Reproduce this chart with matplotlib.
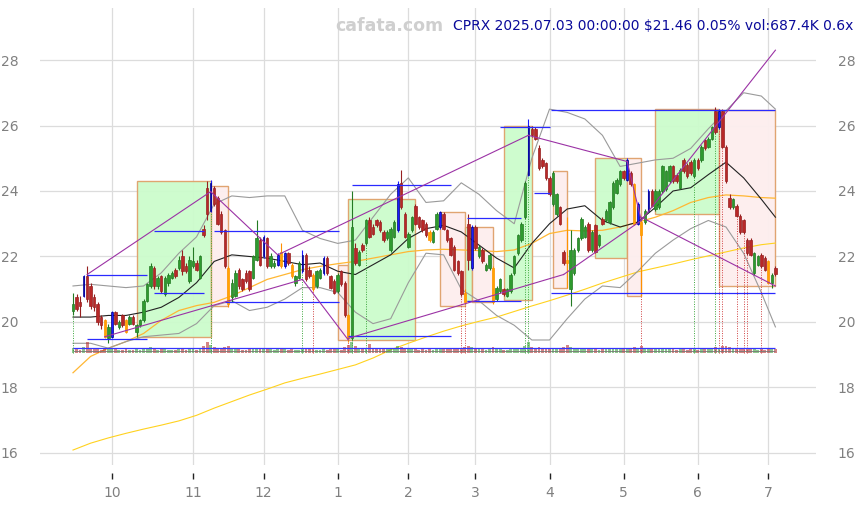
import numpy as np
import pandas as pd
import matplotlib
matplotlib.use("Agg")
import matplotlib.pyplot as plt
from matplotlib.patches import Rectangle

# ---------------- data ----------------
start_date, end_date = "2024-09-16", "2025-07-03"
holidays = ["2024-11-28", "2024-12-25", "2025-01-01", "2025-01-09", "2025-01-20",
            "2025-02-17", "2025-04-18", "2025-05-26", "2025-06-19"]

opens = [20.35, 20.75, 20.6, 20.8, 21.4, 21.1, 20.75, 20.55, 20.15, 20.05,
         19.5, 19.55, 20.3, 19.85, 20.2, 20.05, 19.95, 20.15, 19.7, 19.9,
         20.05, 20.65, 21.1, 21.65, 21.1, 21.4, 20.85, 21.2, 21.35, 21.6,
         21.65, 22.0, 21.7, 21.25, 21.7, 21.8, 21.35, 22.85, 24.1, 23.4,
         24.1, 23.8, 23.3, 22.8, 21.65, 20.75, 20.8, 21.6, 21.3, 21.5,
         21.55, 21.35, 21.9, 22.5, 22.0, 22.55, 21.7, 21.7, 21.75, 22.15,
         21.7, 22.1, 21.75, 21.2, 21.35, 21.55, 22.05, 21.6, 21.45, 21.1,
         21.35, 21.5, 21.95, 21.4, 21.25, 20.95, 21.55, 21.2, 20.2, 19.5,
         22.25, 21.75, 22.35, 22.4, 23.1, 22.9, 23.1, 23.05, 22.75, 22.55,
         22.2, 22.6, 22.8, 24.25, 23.3, 22.3, 22.8, 23.55, 23.2, 23.1,
         23.0, 22.75, 22.45, 22.85, 22.9, 23.3, 22.8, 22.55, 22.3, 21.85,
         21.55, 20.9, 23.0, 21.65, 22.9, 22.0, 22.2, 21.6, 21.65, 21.65,
         20.7, 20.95, 21.0, 20.8, 20.95, 21.5, 22.1, 22.5, 23.2, 24.5,
         25.9, 25.9, 25.3, 24.95, 24.85, 24.4, 23.6, 23.3, 23.5, 22.15,
         21.9, 21.0, 21.5, 22.2, 22.55, 22.6, 23.0, 22.2, 22.95, 22.35,
         23.15, 23.1, 23.05, 23.5, 23.95, 24.2, 24.6, 24.35, 24.55, 24.2,
         23.0, 23.05, 23.05, 23.4, 24.0, 23.45, 23.5, 24.0, 24.05, 24.3,
         24.75, 24.5, 24.1, 24.95, 24.8, 24.9, 24.45, 24.95, 24.95, 25.55,
         25.35, 25.6, 26.45, 25.95, 26.45, 25.35, 23.8, 23.5, 23.55, 23.25,
         23.1, 22.5, 22.5, 21.5, 21.75, 22.05, 21.95, 21.85, 21.2, 21.65]
highs = [20.9, 20.85, 20.8, 21.45, 21.7, 21.2, 20.85, 20.6, 20.2, 20.1,
         19.95, 20.35, 20.35, 20.05, 20.25, 20.1, 20.2, 20.2, 19.95, 20.1,
         20.7, 21.2, 21.8, 21.7, 21.4, 21.45, 21.4, 21.5, 21.55, 21.65,
         22.0, 22.2, 21.8, 22.0, 22.3, 21.9, 22.05, 22.95, 24.3, 24.35,
         24.15, 23.85, 23.4, 22.85, 21.7, 21.3, 21.6, 21.65, 21.35, 21.6,
         21.6, 22.05, 23.1, 22.6, 22.65, 22.6, 22.1, 21.9, 22.1, 22.4,
         22.15, 22.15, 21.8, 21.45, 21.85, 22.2, 22.1, 21.7, 21.5, 21.6,
         21.65, 22.0, 22.0, 21.45, 21.3, 21.5, 21.6, 21.25, 20.25, 24.0,
         22.4, 22.2, 22.4, 23.15, 23.2, 23.0, 23.15, 23.1, 22.8, 22.8,
         22.9, 23.1, 24.3, 24.65, 23.35, 22.75, 23.25, 23.6, 23.25, 23.15,
         23.05, 22.8, 22.8, 23.35, 23.4, 23.35, 22.85, 22.6, 22.35, 21.9,
         21.6, 21.0, 23.3, 22.95, 22.95, 22.35, 22.25, 21.8, 22.1, 21.7,
         21.1, 21.35, 21.05, 21.05, 21.5, 22.05, 22.7, 23.05, 24.3, 26.2,
         26.0, 25.95, 25.4, 25.0, 24.9, 24.45, 24.6, 23.95, 23.55, 22.2,
         23.2, 22.8, 22.25, 22.6, 23.2, 22.95, 23.05, 22.8, 23.0, 22.7,
         23.2, 23.45, 23.7, 24.3, 24.4, 24.65, 24.65, 25.0, 24.6, 24.25,
         23.65, 23.1, 23.45, 24.05, 24.05, 24.05, 24.05, 24.8, 24.65, 24.8,
         24.8, 24.55, 24.7, 25.0, 24.85, 24.95, 25.0, 25.0, 25.4, 25.6,
         25.65, 26.0, 26.55, 26.5, 26.5, 25.4, 23.9, 23.8, 23.6, 23.3,
         23.15, 22.55, 22.55, 22.15, 22.05, 22.1, 22.0, 21.9, 21.5, 21.7]
lows = [20.2, 20.35, 20.15, 20.75, 20.6, 20.4, 20.35, 19.9, 19.8, 19.5,
        19.35, 19.5, 19.9, 19.8, 19.85, 19.65, 19.9, 19.9, 19.55, 19.85,
        20.0, 20.6, 21.05, 21.0, 21.0, 20.9, 20.8, 21.1, 21.3, 21.35,
        21.6, 21.45, 21.5, 21.2, 21.65, 21.55, 21.3, 22.6, 23.1, 23.35,
        23.55, 22.95, 22.7, 21.65, 20.45, 20.6, 20.75, 21.0, 20.95, 21.2,
        20.95, 21.3, 21.85, 21.7, 21.95, 21.65, 21.65, 21.65, 21.7, 21.65,
        21.65, 21.75, 21.35, 21.1, 21.3, 21.5, 21.25, 21.35, 20.95, 21.05,
        21.3, 21.45, 21.45, 21.0, 20.85, 20.9, 21.1, 20.15, 19.4, 19.45,
        21.75, 21.7, 22.15, 22.35, 22.55, 22.65, 22.9, 22.75, 22.45, 22.5,
        22.15, 22.55, 22.75, 23.45, 22.55, 22.25, 22.75, 22.95, 22.85, 22.75,
        22.6, 22.45, 22.4, 22.8, 22.85, 22.8, 22.45, 22.0, 21.55, 21.45,
        20.8, 20.55, 21.6, 21.6, 22.2, 21.95, 21.8, 21.55, 21.6, 20.55,
        20.65, 20.9, 20.8, 20.75, 20.9, 21.45, 22.05, 22.45, 23.15, 24.45,
        25.65, 25.55, 24.65, 24.7, 24.35, 23.85, 23.55, 23.25, 22.95, 21.75,
        21.05, 20.5, 21.45, 22.15, 22.5, 22.55, 22.15, 22.15, 22.1, 22.3,
        22.95, 23.05, 23.0, 23.45, 23.9, 24.15, 24.35, 24.3, 24.15, 22.95,
        22.95, 20.8, 23.0, 23.35, 23.5, 23.4, 23.45, 23.95, 24.0, 24.25,
        24.25, 24.25, 24.05, 24.55, 24.4, 24.5, 24.4, 24.65, 24.9, 25.25,
        25.3, 25.55, 25.75, 25.9, 25.3, 24.25, 23.45, 23.45, 23.2, 22.7,
        22.7, 22.05, 22.0, 21.45, 21.7, 21.65, 21.55, 21.15, 21.05, 21.4]
closes = [20.55, 20.4, 20.5, 21.4, 20.7, 20.5, 20.45, 20.0, 19.9, 19.55,
          19.85, 20.3, 19.95, 20.0, 19.9, 19.7, 20.15, 19.95, 19.9, 20.05,
          20.65, 21.15, 21.7, 21.1, 21.35, 20.95, 21.35, 21.45, 21.5, 21.4,
          21.9, 21.55, 21.55, 21.9, 21.85, 21.6, 22.0, 22.65, 23.3, 24.25,
          23.6, 23.0, 22.75, 21.7, 20.55, 21.2, 21.5, 21.1, 21.0, 21.25,
          21.0, 22.0, 22.55, 21.75, 22.6, 21.7, 22.0, 21.8, 22.05, 21.7,
          22.1, 21.8, 21.4, 21.4, 21.8, 22.05, 21.3, 21.4, 21.0, 21.55,
          21.6, 21.95, 21.5, 21.05, 20.9, 21.45, 21.15, 20.2, 19.5, 22.9,
          21.8, 22.15, 22.2, 23.1, 22.6, 22.7, 22.95, 22.8, 22.5, 22.75,
          22.85, 23.05, 24.2, 23.5, 22.6, 22.7, 23.2, 23.0, 22.9, 22.8,
          22.65, 22.5, 22.75, 23.3, 23.35, 22.85, 22.5, 22.05, 21.6, 21.5,
          20.85, 20.6, 21.9, 22.9, 22.25, 22.3, 21.85, 21.75, 22.05, 20.6,
          21.05, 21.3, 20.85, 21.0, 21.45, 22.0, 22.65, 23.0, 24.25, 26.0,
          25.7, 25.6, 24.7, 24.75, 24.4, 23.9, 24.55, 23.9, 23.0, 21.8,
          21.8, 22.2, 22.2, 22.55, 23.15, 22.9, 22.2, 22.75, 22.15, 22.65,
          23.0, 23.4, 23.65, 24.25, 24.35, 24.6, 24.4, 24.95, 24.2, 23.0,
          23.6, 22.65, 23.4, 24.0, 23.55, 24.0, 24.0, 24.75, 24.6, 24.75,
          24.3, 24.3, 24.65, 24.6, 24.45, 24.55, 24.95, 24.7, 25.35, 25.3,
          25.6, 25.95, 25.8, 26.45, 25.35, 24.3, 23.5, 23.75, 23.25, 22.75,
          22.75, 22.1, 22.05, 22.1, 22.0, 21.7, 21.6, 21.2, 21.45, 21.46]
# highlighted sessions (drawn blue / orange instead of green / red)
blue_sessions = [3, 11, 39, 54, 58, 60, 65, 71, 92, 104, 113, 129, 157, 160, 163, 183]
orange_sessions = [9, 15, 44, 59, 62, 68, 78, 101, 111, 119, 140, 159, 161, 197]
volumes = [900, 700, 650, 1100, 2600, 900, 700, 800, 650, 900,
           800, 1000, 700, 600, 650, 800, 600, 550, 700, 650,
           900, 1000, 1100, 800, 650, 700, 750, 600, 550, 600,
           800, 900, 650, 800, 700, 600, 900, 1400, 2000, 1600,
           1100, 1000, 900, 1200, 1300, 900, 800, 700, 650, 600,
           700, 800, 1000, 900, 850, 900, 700, 600, 700, 800,
           750, 650, 700, 600, 650, 800, 900, 700, 750, 650,
           600, 700, 650, 700, 750, 700, 650, 1100, 1500, 2400,
           1300, 900, 800, 1000, 1800, 900, 800, 700, 750, 700,
           800, 850, 1300, 1100, 900, 800, 850, 700, 650, 700,
           650, 700, 600, 800, 850, 700, 750, 800, 900, 800,
           1000, 1100, 1300, 1200, 900, 700, 700, 600, 700, 1200,
           900, 800, 650, 600, 800, 900, 1000, 1000, 1400, 2000,
           1200, 1000, 1100, 900, 850, 900, 1000, 900, 800, 1100,
           1500, 1200, 900, 800, 850, 750, 800, 700, 750, 650,
           700, 750, 800, 900, 850, 800, 750, 1000, 900, 1100,
           900, 1400, 800, 900, 700, 750, 700, 850, 750, 700,
           700, 650, 750, 700, 650, 700, 750, 650, 800, 750,
           700, 850, 1100, 1000, 1300, 1400, 1200, 800, 900, 850,
           800, 900, 800, 750, 650, 700, 650, 900, 750, 687]

# indicator lines every 5 sessions
ind_idx = [0, 5, 10, 15, 20, 25, 30, 35, 40, 45, 50, 55, 60, 65, 70, 75, 80, 85, 90, 95,
           100, 105, 110, 115, 120, 125, 130, 135, 140, 145, 150, 155, 160, 165, 170,
           175, 180, 185, 190, 195, 199]
ma_black = [20.15, 20.15, 20.2, 20.2, 20.3, 20.45, 20.75, 21.2, 21.85, 22.05, 22.0, 21.95,
            21.85, 21.75, 21.8, 21.55, 21.45, 21.75, 22.05, 22.55, 22.85, 22.95, 22.75,
            22.35, 21.95, 21.65, 22.4, 23.0, 23.45, 23.55, 23.1, 22.9, 23.05, 23.5, 24.0,
            24.1, 24.5, 24.88, 24.4, 23.75, 23.2]
ma_orange = [18.45, 18.95, 19.2, 19.4, 19.65, 20.05, 20.35, 20.5, 20.6, 20.8, 21.05, 21.3,
             21.45, 21.6, 21.7, 21.78, 21.85, 21.95, 22.05, 22.15, 22.2, 22.22, 22.2, 22.18,
             22.15, 22.2, 22.4, 22.7, 22.8, 22.78, 22.8, 22.9, 23.05, 23.2, 23.4, 23.65,
             23.8, 23.88, 23.85, 23.8, 23.78]
ma_yellow = [16.09, 16.3, 16.46, 16.6, 16.73, 16.85, 16.98, 17.15, 17.37, 17.57, 17.77,
             17.95, 18.14, 18.28, 18.41, 18.55, 18.69, 18.9, 19.15, 19.35, 19.54, 19.72,
             19.88, 20.02, 20.15, 20.32, 20.49, 20.65, 20.82, 21.0, 21.19, 21.36, 21.53,
             21.65, 21.77, 21.9, 22.02, 22.14, 22.26, 22.36, 22.41]
bb_upper = [21.1, 21.15, 21.1, 21.05, 21.1, 21.5, 22.1, 22.6, 23.6, 23.85, 23.8, 23.85,
            23.85, 22.8, 22.55, 22.4, 22.5, 23.2, 23.9, 24.4, 23.65, 23.7, 24.25, 23.9,
            23.4, 23.0, 25.0, 26.5, 26.4, 26.2, 25.7, 24.75, 24.85, 24.95, 25.0, 25.3,
            25.9, 26.45, 27.0, 26.9, 26.5]
bb_lower = [19.35, 19.35, 19.2, 19.4, 19.55, 19.6, 19.65, 19.95, 20.5, 20.65, 20.35, 20.45,
            20.7, 21.05, 21.05, 20.9, 20.3, 19.95, 20.1, 21.2, 22.1, 22.05, 21.0, 20.65,
            20.2, 19.9, 19.45, 19.45, 20.1, 20.7, 21.1, 21.05, 21.55, 22.1, 22.5, 22.85,
            23.1, 22.9, 22.1, 20.9, 19.85]

# zones (session index from/to, price low/high)
box_start = [18, 39, 75, 78, 104, 111, 113, 122, 136, 148, 157, 165, 183]
box_end = [39, 44, 78, 97, 111, 113, 119, 130, 140, 157, 161, 183, 199]
box_low = [19.55, 20.5, 19.45, 19.45, 20.5, 20.65, 20.6, 20.67, 21.05, 21.95, 20.8, 23.3, 21.1]
box_high = [24.3, 24.15, 21.75, 23.75, 23.35, 22.9, 22.9, 26.0, 24.6, 25.0, 25.0, 26.5, 26.47]
box_kind = ["up", "down", "down", "up", "down", "up", "down", "up", "down", "up", "down", "up", "down"]

# support / resistance levels
lvl_price = [21.43, 19.48, 22.78, 20.88, 22.77, 20.6, 24.18, 19.57, 23.17, 20.65,
             25.95, 23.94, 26.47, 20.9]
lvl_from = [4, 4, 23, 23, 40, 43, 79, 78, 111.5, 111.5, 121, 130.5, 135.5, 135.5]
lvl_to = [21, 21, 37, 37, 75.5, 75.5, 107, 107, 127, 127, 135, 135, 199, 199]

# trend segments
seg_x0 = [4, 39, 58, 129, 157, 161, 9, 65, 78, 139, 161]
seg_y0 = [21.45, 23.98, 22.05, 25.7, 24.9, 23.1, 19.55, 21.3, 19.5, 21.45, 23.2]
seg_x1 = [39, 58, 129, 157, 161, 199, 65, 78, 139, 161, 199]
seg_y1 = [23.98, 22.05, 25.7, 24.9, 23.1, 28.3, 21.3, 19.45, 21.45, 23.1, 21.1]

buy_marks = [0, 39, 65, 79, 83, 128, 129, 176, 182]
sell_marks = [68, 78, 110, 111, 161, 183, 184, 188, 190, 191, 195]

y_ticks = [16, 18, 20, 22, 24, 26, 28]
title_site = "cafata.com"
title_info = "CPRX 2025.07.03 00:00:00 \\$21.46 0.05% vol:687.4K 0.6x"

# ---------------- derived ----------------
dates = pd.bdate_range(start_date, end_date)
dates = dates[~dates.isin(pd.to_datetime(holidays))]
n = len(dates)
x = np.arange(n)
months = dates.to_period("M")
tick_pos = [i for i in range(1, n) if months[i] != months[i - 1]]
tick_lab = [str(dates[i].month) for i in tick_pos]

O = np.array(opens); H = np.array(highs); L = np.array(lows); C = np.array(closes)
V = np.array(volumes, dtype=float)
kinds = ["g" if c >= o else "r" for o, c in zip(O, C)]
for i in blue_sessions:
    kinds[i] = "b"
for i in orange_sessions:
    kinds[i] = "o"

# ---------------- figure ----------------
W, Hpx = 864, 505
fig = plt.figure(figsize=(W / 100, Hpx / 100), dpi=100)
left, right, top, bottom = 40, 816, 8, 465
ax = fig.add_axes([left / W, 1 - bottom / Hpx, (right - left) / W, (bottom - top) / Hpx])
ax.set_xlim(-9.35, 210.5)
ax.set_ylim(15.633, 29.588)
ax.set_axisbelow(True)
ax.grid(True, color="#dcdcdc", linewidth=0.9)
for s in ax.spines.values():
    s.set_visible(False)
ax.spines["bottom"].set_position(("outward", 6))

ax.set_yticks(y_ticks)
ax.set_yticklabels([str(t) for t in y_ticks])
ax.tick_params(axis="y", left=False, right=False, labelleft=True, labelright=True,
               labelsize=10, labelcolor="#808080", pad=12)
ax.set_xticks(tick_pos)
ax.set_xticklabels(tick_lab)
ax.tick_params(axis="x", length=4, width=1, color="#222222", labelsize=10,
               labelcolor="#808080", pad=5)

# zones
for s0, s1, lo, hi, k in zip(box_start, box_end, box_low, box_high, box_kind):
    fc = "#ccfccc" if k == "up" else "#fdeeee"
    ax.add_patch(Rectangle((s0, lo), s1 - s0, hi - lo, facecolor=fc, edgecolor="#dfa06a",
                           linewidth=1.0, alpha=0.95, zorder=1))

# indicator lines
ax.plot(ind_idx, ma_yellow, color="#ffd21f", lw=0.8, zorder=2)
ax.plot(ind_idx, ma_orange, color="#ffb733", lw=0.9, zorder=2)
ax.plot(ind_idx, bb_upper, color="#9a9a9a", lw=0.8, zorder=2)
ax.plot(ind_idx, bb_lower, color="#9a9a9a", lw=0.8, zorder=2)
ax.plot(ind_idx, ma_black, color="#222222", lw=0.8, zorder=2)

# volume strip
vol_base = 19.05
vh = 0.13 * np.clip(V / 800.0, 0, 2.5)
vcol = ["#2e9a2e" if c >= o else "#b22222" for o, c in zip(O, C)]
ax.bar(x, vh, width=0.8, bottom=vol_base, color=vcol, alpha=0.55, zorder=2)
ax.hlines(19.22, 0, n - 1, color="#3333ff", lw=0.9, zorder=3)
ax.hlines(19.12, 0, n - 1, color="#777777", lw=0.6, zorder=3)

# signal markers
for i in buy_marks:
    ax.vlines(i, vol_base, L[i], colors="#3aa53a", linestyles=(0, (1, 1.5)), lw=0.7, zorder=2)
for i in sell_marks:
    ax.vlines(i, vol_base, L[i], colors="#d04040", linestyles=(0, (1, 1.5)), lw=0.7, zorder=2)

# candles
col_body = {"g": "#2e9a2e", "r": "#b82828", "b": "#1a1aff", "o": "#ffa500"}
col_edge = {"g": "#237a23", "r": "#962020", "b": "#000080", "o": "#ff9000"}
width = {"g": 0.7, "r": 0.7, "b": 0.45, "o": 0.6}
for i in range(n):
    k = kinds[i]
    ax.vlines(x[i], L[i], H[i], colors=col_edge[k] if k != "b" else "#1a1aff", lw=0.8, zorder=3)
    lo_b, hi_b = min(O[i], C[i]), max(O[i], C[i])
    ax.add_patch(Rectangle((x[i] - width[k] / 2, lo_b), width[k], max(hi_b - lo_b, 0.02),
                           facecolor=col_body[k], edgecolor=col_edge[k], lw=0.5, zorder=4))

# levels and trend segments
for p, a, b in zip(lvl_price, lvl_from, lvl_to):
    ax.hlines(p, a, b, color="#2a2aff", lw=0.9, zorder=5)
for a0, b0, a1, b1 in zip(seg_x0, seg_y0, seg_x1, seg_y1):
    ax.plot([a0, a1], [b0, b1], color="#9b32a5", lw=0.8, zorder=5)

# header texts
fig.text(389 / W, 1 - 26 / Hpx, title_site, color="#cfcfcf", fontsize=12.5,
         fontweight="bold", ha="center", va="center")
fig.text(453 / W, 1 - 26 / Hpx, title_info, color="#0a0a9a", fontsize=10,
         ha="left", va="center")

fig.savefig("out.png", dpi=100)
